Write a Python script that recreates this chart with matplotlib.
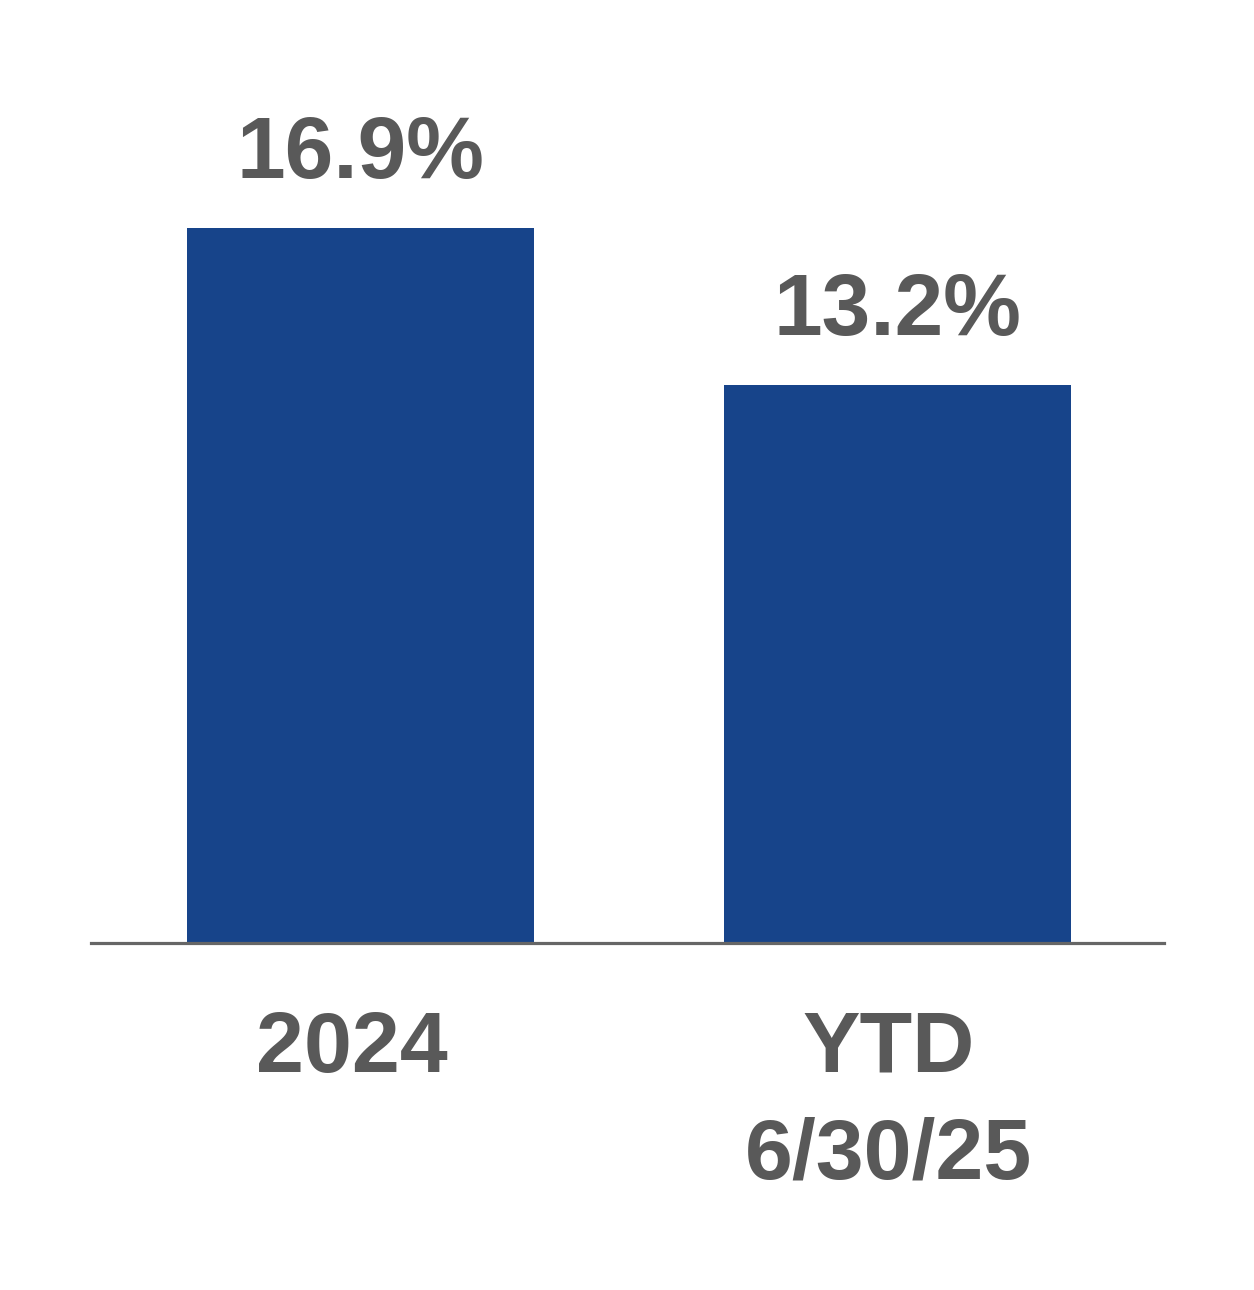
import matplotlib
matplotlib.use("Agg")
import matplotlib.pyplot as plt
from matplotlib.transforms import blended_transform_factory, offset_copy

categories = ["2024", "YTD\n6/30/25"]
values = [16.9, 13.2]
value_labels = ["16.9%", "13.2%"]

W, H = 1254, 1290
dpi = 100
fig = plt.figure(figsize=(W / dpi, H / dpi), dpi=dpi)
fig.patch.set_facecolor("white")

left_px, right_px = 91, 1164
axis_y_px = 943
top_px = 97
ax = fig.add_axes([left_px / W, 1 - axis_y_px / H, (right_px - left_px) / W, (axis_y_px - top_px) / H])

bar_color = "#17448A"
text_color = "#595959"
font = ["Liberation Sans", "DejaVu Sans"]

x = list(range(len(categories)))
ax.bar(x, values, width=0.646, color=bar_color, zorder=2)
ax.set_xlim(-0.502, 1.496)
ax.set_ylim(0, 20)

for s in ["top", "right", "left"]:
    ax.spines[s].set_visible(False)
ax.spines["bottom"].set_color("#666666")
ax.spines["bottom"].set_linewidth(2.3)
ax.spines["bottom"].set_zorder(3)
ax.set_yticks([])
ax.set_xticks([])

px = 72 / dpi
for xi, v, lab in zip(x, values, value_labels):
    ax.annotate(lab, (xi, v), xytext=(0, 50 * px), textcoords="offset points",
                ha="center", va="baseline", fontsize=63, fontweight="bold",
                color=text_color, family=font)

trans = blended_transform_factory(ax.transData, ax.transAxes)
line_gap_pt = 106 * px
first_base_pt = 129 * px
for xi, cat in zip(x, categories):
    for i, line in enumerate(cat.split("\n")):
        t = offset_copy(trans, fig=fig, x=-9 * px, y=-(first_base_pt + i * line_gap_pt), units="points")
        ax.text(xi, 0, line, transform=t, ha="center", va="baseline",
                fontsize=62, fontweight="bold", color=text_color, family=font)

fig.savefig("out.png", dpi=dpi, facecolor="white")
